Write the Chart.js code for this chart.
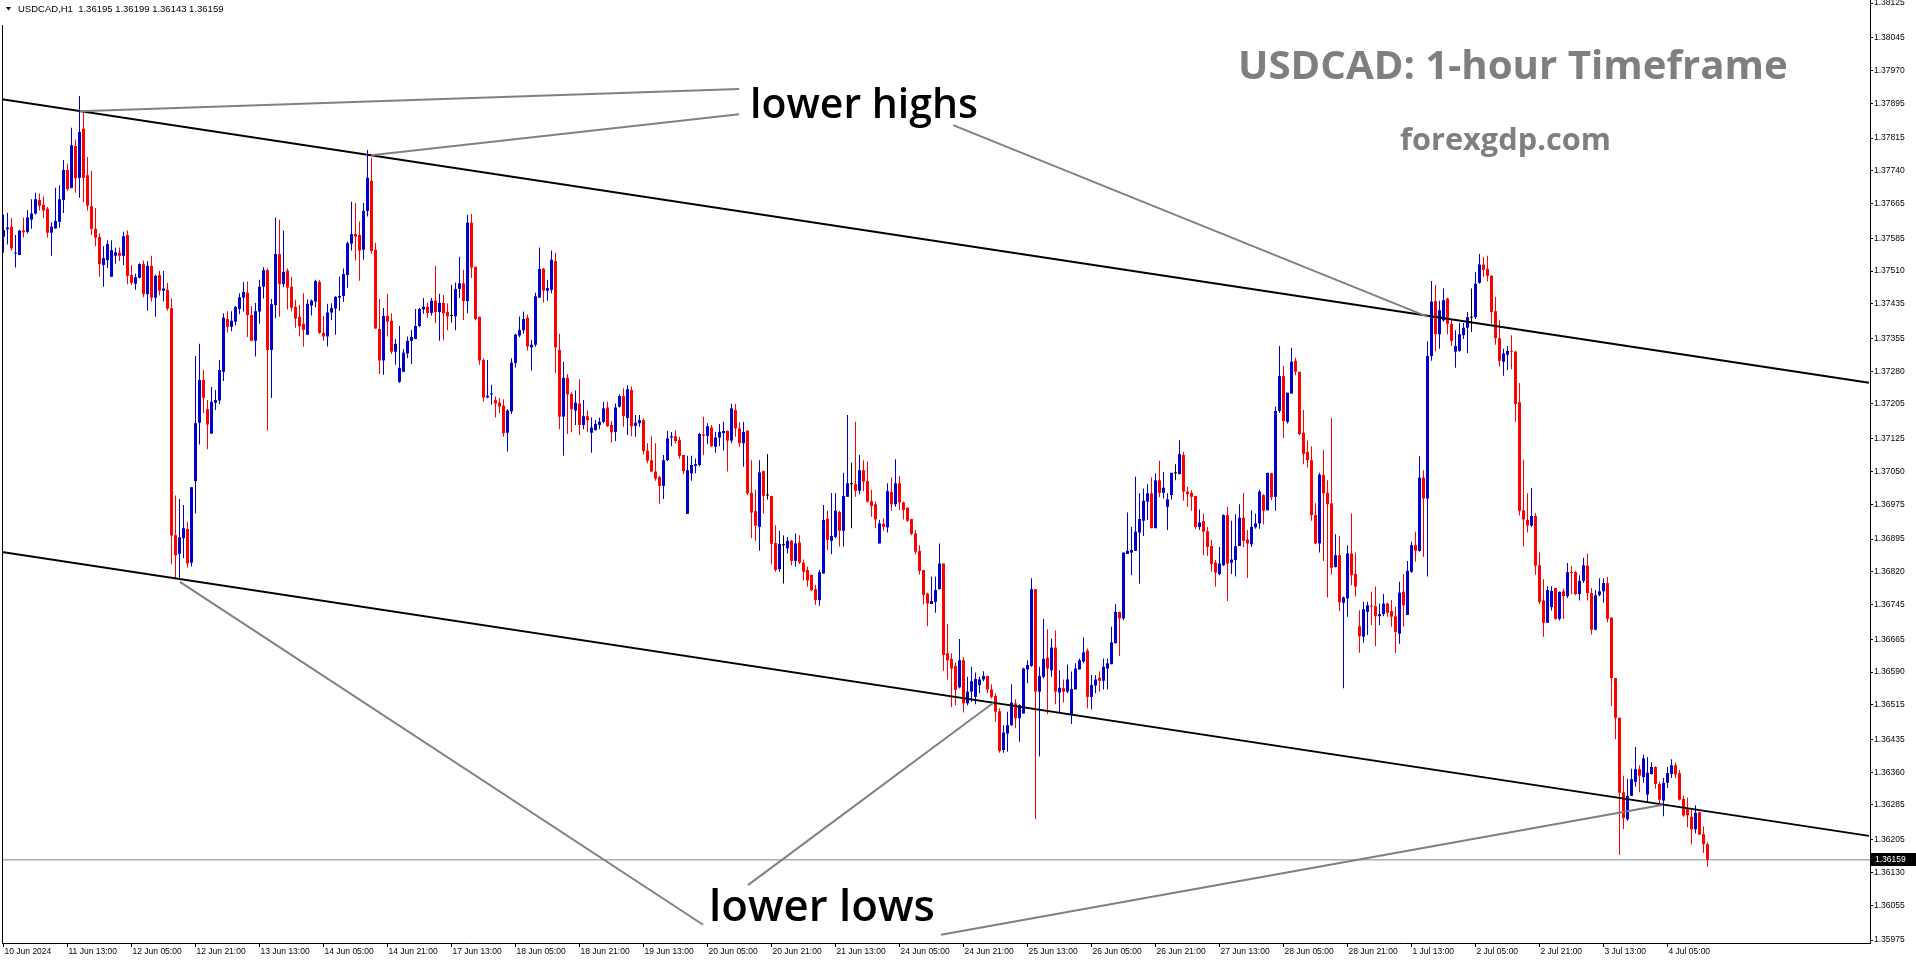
<!DOCTYPE html>
<html><head><meta charset="utf-8">
<script src="https://cdn.jsdelivr.net/npm/chart.js@4.4.1/dist/chart.umd.min.js"></script>
<style>html,body{margin:0;padding:0;background:#fff;overflow:hidden}canvas{display:block}</style>
</head><body>
<canvas id="c" width="1916" height="964"></canvas>
<script>
// ---- USDCAD H1 candles, one entry per hourly bar, from 10 Jun 2024 21:00 ----
const openP = [
1.37589,1.37606,1.37612,1.37550,1.37547,1.37603,1.37600,1.37628,1.37642,1.37673,1.37662,1.37653,1.37598,1.37608,1.37623,1.37673,
1.37742,1.37701,1.37797,1.37724,1.37837,1.37730,1.37659,1.37607,1.37588,1.37524,1.37535,1.37497,1.37545,1.37552,1.37545,1.37593,
1.37501,1.37481,1.37495,1.37526,1.37457,1.37522,1.37449,1.37501,1.37465,1.37467,1.37425,1.36904,1.36861,1.36897,1.36918,1.36841,
1.37028,1.37162,1.37260,1.37193,1.37137,1.37208,1.37213,1.37279,1.37400,1.37382,1.37394,1.37423,1.37449,1.37460,1.37409,1.37350,
1.37417,1.37474,1.37512,1.37329,1.37432,1.37549,1.37480,1.37511,1.37474,1.37428,1.37405,1.37389,1.37364,1.37431,1.37440,1.37485,
1.37368,1.37360,1.37415,1.37424,1.37449,1.37453,1.37501,1.37573,1.37595,1.37593,1.37559,1.37648,1.37717,1.37559,1.37377,1.37305,
1.37407,1.37396,1.37325,1.37256,1.37279,1.37321,1.37350,1.37354,1.37384,1.37422,1.37428,1.37414,1.37442,1.37416,1.37437,1.37416,
1.37407,1.37406,1.37469,1.37482,1.37441,1.37621,1.37520,1.37405,1.37306,1.37220,1.37227,1.37214,1.37208,1.37201,1.37139,1.37188,
1.37299,1.37362,1.37374,1.37403,1.37335,1.37341,1.37449,1.37515,1.37465,1.37467,1.37533,1.37329,1.37176,1.37265,1.37228,1.37190,
1.37206,1.37157,1.37177,1.37139,1.37145,1.37157,1.37164,1.37197,1.37157,1.37141,1.37199,1.37223,1.37173,1.37237,1.37155,1.37161,
1.37168,1.37098,1.37076,1.37050,1.37037,1.37017,1.37076,1.37128,1.37131,1.37122,1.37088,1.36953,1.37046,1.37063,1.37065,1.37135,
1.37132,1.37151,1.37107,1.37128,1.37138,1.37143,1.37121,1.37191,1.37149,1.37115,1.37144,1.37001,1.36959,1.36923,1.37051,1.36995,
1.36994,1.36886,1.36826,1.36881,1.36874,1.36891,1.36845,1.36887,1.36841,1.36824,1.36813,1.36780,1.36755,1.36816,1.36942,1.36891,
1.36900,1.36957,1.36914,1.36992,1.37021,1.37021,1.37006,1.37053,1.37028,1.36982,1.36975,1.36885,1.36930,1.36922,1.37003,1.36975,
1.37023,1.36979,1.36967,1.36941,1.36908,1.36868,1.36824,1.36770,1.36746,1.36751,1.36780,1.36839,1.36633,1.36620,1.36604,1.36555,
1.36617,1.36518,1.36545,1.36533,1.36560,1.36573,1.36581,1.36550,1.36535,1.36500,1.36411,1.36449,1.36468,1.36518,1.36484,1.36495,
1.36596,1.36604,1.36780,1.36545,1.36579,1.36623,1.36594,1.36646,1.36543,1.36553,1.36545,1.36491,1.36550,1.36596,1.36614,1.36639,
1.36533,1.36559,1.36577,1.36570,1.36598,1.36608,1.36656,1.36728,1.36713,1.36861,1.36864,1.36868,1.36910,1.36937,1.36981,1.37000,
1.36920,1.37030,1.37001,1.36969,1.36996,1.37046,1.37044,1.37088,1.37004,1.37001,1.36994,1.36923,1.36936,1.36913,1.36879,1.36841,
1.36815,1.36835,1.36950,1.36841,1.36847,1.36879,1.36944,1.36894,1.36883,1.36922,1.36931,1.36996,1.36961,1.37046,1.36992,1.37189,
1.37269,1.37164,1.37229,1.37304,1.37279,1.37139,1.37095,1.37076,1.36950,1.36885,1.37042,1.37001,1.36977,1.36831,1.36858,1.36749,
1.36759,1.36862,1.36815,1.36695,1.36671,1.36728,1.36741,1.36741,1.36718,1.36723,1.36747,1.36730,1.36718,1.36678,1.36774,1.36721,
1.36820,1.36881,1.36868,1.37036,1.36988,1.37315,1.37441,1.37365,1.37397,1.37447,1.37389,1.37325,1.37327,1.37363,1.37380,1.37403,
1.37404,1.37483,1.37525,1.37515,1.37499,1.37418,1.37356,1.37302,1.37318,1.37327,1.37325,1.37209,1.36961,1.36939,1.36926,1.36948,
1.36835,1.36754,1.36703,1.36739,1.36783,1.36712,1.36775,1.36764,1.36819,1.36819,1.36769,1.36799,1.36834,1.36771,1.36687,1.36767,
1.36775,1.36794,1.36715,1.36576,1.36485,1.36314,1.36252,1.36306,1.36338,1.36367,1.36349,1.36309,1.36356,1.36372,1.36333,1.36295,
1.36336,1.36356,1.36376,1.36358,1.36299,1.36275,1.36258,1.36229,1.36268,1.36218,1.36195];
const highP = [
1.37639,1.37644,1.37631,1.37593,1.37604,1.37633,1.37650,1.37675,1.37690,1.37688,1.37681,1.37657,1.37622,1.37701,1.37707,1.37765,
1.37757,1.37839,1.37812,1.37912,1.37876,1.37772,1.37740,1.37655,1.37597,1.37567,1.37581,1.37581,1.37564,1.37564,1.37600,1.37603,
1.37524,1.37504,1.37528,1.37534,1.37533,1.37545,1.37502,1.37511,1.37510,1.37483,1.37447,1.36995,1.36987,1.36973,1.36935,1.37014,
1.37315,1.37343,1.37283,1.37214,1.37244,1.37237,1.37306,1.37413,1.37418,1.37418,1.37429,1.37459,1.37485,1.37486,1.37430,1.37437,
1.37490,1.37519,1.37516,1.37446,1.37633,1.37628,1.37603,1.37516,1.37497,1.37444,1.37432,1.37459,1.37445,1.37445,1.37490,1.37489,
1.37407,1.37435,1.37436,1.37452,1.37497,1.37516,1.37578,1.37669,1.37666,1.37624,1.37666,1.37788,1.37770,1.37575,1.37446,1.37425,
1.37458,1.37413,1.37354,1.37384,1.37331,1.37360,1.37375,1.37423,1.37425,1.37448,1.37438,1.37448,1.37522,1.37458,1.37455,1.37436,
1.37478,1.37484,1.37543,1.37513,1.37639,1.37641,1.37520,1.37405,1.37310,1.37306,1.37249,1.37222,1.37219,1.37216,1.37193,1.37310,
1.37367,1.37406,1.37417,1.37410,1.37352,1.37460,1.37564,1.37517,1.37490,1.37557,1.37552,1.37366,1.37302,1.37274,1.37232,1.37236,
1.37262,1.37214,1.37190,1.37174,1.37168,1.37174,1.37210,1.37210,1.37166,1.37206,1.37227,1.37241,1.37248,1.37245,1.37180,1.37180,
1.37172,1.37115,1.37131,1.37115,1.37040,1.37088,1.37143,1.37141,1.37145,1.37130,1.37088,1.37086,1.37086,1.37080,1.37139,1.37176,
1.37161,1.37157,1.37141,1.37159,1.37164,1.37145,1.37206,1.37205,1.37163,1.37164,1.37144,1.37076,1.37008,1.37076,1.37052,1.37090,
1.36994,1.36927,1.36914,1.36903,1.36900,1.36893,1.36908,1.36904,1.36848,1.36832,1.36813,1.36790,1.36824,1.36973,1.36960,1.37001,
1.37001,1.36960,1.37047,1.37180,1.37070,1.37164,1.37088,1.37076,1.37073,1.37008,1.36981,1.36939,1.36942,1.37023,1.37037,1.37078,
1.37040,1.36981,1.36968,1.36941,1.36916,1.36881,1.36824,1.36772,1.36809,1.36809,1.36885,1.36839,1.36700,1.36633,1.36612,1.36666,
1.36624,1.36579,1.36602,1.36589,1.36579,1.36592,1.36581,1.36562,1.36541,1.36507,1.36468,1.36499,1.36562,1.36527,1.36516,1.36600,
1.36617,1.36805,1.36780,1.36602,1.36712,1.36688,1.36667,1.36685,1.36594,1.36573,1.36607,1.36591,1.36610,1.36621,1.36669,1.36644,
1.36583,1.36583,1.36592,1.36621,1.36621,1.36694,1.36746,1.36728,1.36864,1.36956,1.36923,1.37038,1.37000,1.37011,1.37021,1.37037,
1.37046,1.37075,1.37049,1.37000,1.37047,1.37067,1.37122,1.37095,1.37015,1.37007,1.36994,1.36963,1.36954,1.36923,1.36893,1.36847,
1.36877,1.36952,1.36969,1.36937,1.36952,1.36975,1.37001,1.36916,1.36961,1.36954,1.37009,1.36998,1.37047,1.37047,1.37199,1.37338,
1.37292,1.37231,1.37334,1.37311,1.37279,1.37191,1.37122,1.37108,1.36977,1.37047,1.37099,1.37030,1.37173,1.36906,1.36902,1.36763,
1.36881,1.36954,1.36864,1.36732,1.36751,1.36751,1.36774,1.36786,1.36747,1.36769,1.36749,1.36755,1.36740,1.36797,1.36815,1.36845,
1.36889,1.36912,1.37085,1.37053,1.37349,1.37487,1.37478,1.37442,1.37470,1.37449,1.37400,1.37374,1.37391,1.37391,1.37416,1.37470,
1.37508,1.37549,1.37542,1.37545,1.37501,1.37451,1.37397,1.37332,1.37338,1.37363,1.37327,1.37253,1.37077,1.37000,1.37012,1.36955,
1.36864,1.36803,1.36787,1.36787,1.36783,1.36775,1.36781,1.36840,1.36834,1.36822,1.36812,1.36852,1.36862,1.36783,1.36778,1.36805,
1.36805,1.36808,1.36715,1.36576,1.36485,1.36352,1.36345,1.36368,1.36418,1.36376,1.36400,1.36395,1.36383,1.36374,1.36338,1.36347,
1.36372,1.36390,1.36382,1.36365,1.36306,1.36302,1.36275,1.36284,1.36270,1.36236,1.36199];
const lowP = [
1.37552,1.37571,1.37557,1.37518,1.37547,1.37587,1.37596,1.37607,1.37640,1.37649,1.37631,1.37587,1.37545,1.37607,1.37610,1.37643,
1.37694,1.37700,1.37690,1.37678,1.37668,1.37649,1.37593,1.37567,1.37497,1.37474,1.37517,1.37497,1.37527,1.37533,1.37524,1.37480,
1.37478,1.37467,1.37493,1.37450,1.37419,1.37440,1.37405,1.37454,1.37440,1.37419,1.36837,1.36803,1.36801,1.36851,1.36830,1.36832,
1.36954,1.37112,1.37184,1.37101,1.37137,1.37191,1.37205,1.37258,1.37369,1.37372,1.37385,1.37411,1.37417,1.37359,1.37350,1.37314,
1.37389,1.37447,1.37144,1.37219,1.37402,1.37405,1.37473,1.37422,1.37417,1.37380,1.37360,1.37337,1.37364,1.37408,1.37427,1.37366,
1.37350,1.37337,1.37398,1.37364,1.37419,1.37439,1.37472,1.37557,1.37534,1.37488,1.37536,1.37635,1.37550,1.37378,1.37274,1.37272,
1.37360,1.37320,1.37295,1.37253,1.37279,1.37310,1.37297,1.37354,1.37381,1.37412,1.37403,1.37408,1.37390,1.37350,1.37351,1.37374,
1.37392,1.37374,1.37448,1.37398,1.37413,1.37494,1.37397,1.37295,1.37211,1.37218,1.37203,1.37174,1.37184,1.37130,1.37096,1.37182,
1.37289,1.37358,1.37366,1.37328,1.37282,1.37337,1.37449,1.37438,1.37442,1.37459,1.37276,1.37147,1.37087,1.37136,1.37140,1.37157,
1.37134,1.37147,1.37141,1.37093,1.37144,1.37147,1.37161,1.37153,1.37116,1.37120,1.37197,1.37153,1.37134,1.37131,1.37130,1.37153,
1.37089,1.37069,1.37049,1.37029,1.36976,1.36987,1.37074,1.37108,1.37115,1.37080,1.37044,1.36953,1.37029,1.37046,1.37061,1.37088,
1.37113,1.37107,1.37093,1.37108,1.37098,1.37050,1.37115,1.37130,1.37107,1.37061,1.36996,1.36897,1.36891,1.36868,1.36954,1.36986,
1.36837,1.36820,1.36820,1.36793,1.36862,1.36835,1.36832,1.36838,1.36800,1.36786,1.36776,1.36744,1.36742,1.36816,1.36870,1.36860,
1.36897,1.36878,1.36878,1.36992,1.36920,1.36992,1.36998,1.37005,1.36979,1.36946,1.36920,1.36885,1.36914,1.36910,1.36960,1.36969,
1.36962,1.36940,1.36935,1.36904,1.36860,1.36814,1.36745,1.36695,1.36746,1.36726,1.36780,1.36593,1.36572,1.36510,1.36514,1.36552,
1.36497,1.36514,1.36522,1.36516,1.36541,1.36569,1.36541,1.36529,1.36476,1.36405,1.36405,1.36407,1.36466,1.36461,1.36430,1.36495,
1.36564,1.36602,1.36253,1.36396,1.36575,1.36493,1.36579,1.36516,1.36497,1.36520,1.36541,1.36471,1.36550,1.36596,1.36610,1.36507,
1.36504,1.36541,1.36545,1.36550,1.36550,1.36608,1.36656,1.36627,1.36709,1.36861,1.36812,1.36868,1.36793,1.36902,1.36939,1.36920,
1.36920,1.36991,1.36988,1.36916,1.36986,1.37030,1.37044,1.36983,1.36969,1.36960,1.36919,1.36916,1.36858,1.36856,1.36820,1.36786,
1.36812,1.36833,1.36753,1.36815,1.36809,1.36879,1.36877,1.36806,1.36877,1.36919,1.36919,1.36929,1.36961,1.36984,1.36960,1.37185,
1.37127,1.37160,1.37229,1.37271,1.37134,1.37067,1.37059,1.36937,1.36883,1.36864,1.36845,1.36761,1.36814,1.36830,1.36730,1.36553,
1.36717,1.36789,1.36763,1.36634,1.36657,1.36675,1.36698,1.36649,1.36698,1.36718,1.36717,1.36694,1.36633,1.36655,1.36694,1.36721,
1.36818,1.36843,1.36866,1.36854,1.36809,1.37304,1.37326,1.37332,1.37394,1.37365,1.37338,1.37288,1.37325,1.37354,1.37322,1.37370,
1.37400,1.37481,1.37497,1.37486,1.37389,1.37341,1.37291,1.37270,1.37283,1.37285,1.37164,1.36949,1.36878,1.36910,1.36923,1.36813,
1.36746,1.36671,1.36703,1.36731,1.36710,1.36708,1.36712,1.36760,1.36769,1.36766,1.36754,1.36794,1.36754,1.36676,1.36686,1.36764,
1.36749,1.36704,1.36512,1.36436,1.36170,1.36229,1.36249,1.36314,1.36327,1.36314,1.36336,1.36291,1.36355,1.36322,1.36286,1.36259,
1.36324,1.36347,1.36347,1.36295,1.36258,1.36234,1.36195,1.36220,1.36216,1.36175,1.36143];
const closeP = [
1.37604,1.37610,1.37562,1.37552,1.37603,1.37599,1.37633,1.37642,1.37675,1.37660,1.37649,1.37598,1.37612,1.37625,1.37675,1.37742,
1.37698,1.37799,1.37723,1.37829,1.37724,1.37660,1.37607,1.37587,1.37526,1.37540,1.37572,1.37558,1.37553,1.37545,1.37590,1.37499,
1.37483,1.37496,1.37526,1.37457,1.37522,1.37449,1.37499,1.37465,1.37470,1.37424,1.36903,1.36858,1.36899,1.36920,1.36839,1.37014,
1.37161,1.37260,1.37219,1.37158,1.37210,1.37214,1.37283,1.37403,1.37382,1.37396,1.37428,1.37450,1.37462,1.37409,1.37350,1.37418,
1.37474,1.37512,1.37329,1.37434,1.37549,1.37480,1.37508,1.37472,1.37426,1.37401,1.37383,1.37375,1.37435,1.37442,1.37487,1.37368,
1.37360,1.37415,1.37425,1.37451,1.37453,1.37503,1.37574,1.37595,1.37589,1.37557,1.37648,1.37724,1.37556,1.37378,1.37305,1.37407,
1.37394,1.37325,1.37343,1.37288,1.37323,1.37350,1.37359,1.37384,1.37423,1.37428,1.37414,1.37442,1.37416,1.37437,1.37413,1.37406,
1.37407,1.37469,1.37482,1.37441,1.37621,1.37518,1.37400,1.37305,1.37220,1.37224,1.37228,1.37206,1.37199,1.37138,1.37190,1.37300,
1.37364,1.37375,1.37400,1.37337,1.37341,1.37452,1.37515,1.37465,1.37471,1.37536,1.37335,1.37176,1.37265,1.37227,1.37193,1.37208,
1.37157,1.37177,1.37168,1.37151,1.37159,1.37164,1.37195,1.37154,1.37140,1.37197,1.37223,1.37177,1.37239,1.37154,1.37162,1.37168,
1.37097,1.37075,1.37050,1.37034,1.37017,1.37076,1.37126,1.37131,1.37120,1.37086,1.37051,1.37053,1.37065,1.37067,1.37136,1.37132,
1.37154,1.37108,1.37128,1.37141,1.37143,1.37121,1.37195,1.37149,1.37115,1.37141,1.37000,1.36956,1.36926,1.37048,1.36994,1.36995,
1.36884,1.36824,1.36884,1.36881,1.36891,1.36845,1.36885,1.36841,1.36820,1.36800,1.36778,1.36755,1.36819,1.36939,1.36893,1.36902,
1.36960,1.36914,1.36994,1.37023,1.37021,1.37006,1.37053,1.37027,1.36981,1.36971,1.36940,1.36931,1.36923,1.37005,1.36975,1.37023,
1.36979,1.36962,1.36937,1.36907,1.36866,1.36822,1.36767,1.36747,1.36753,1.36778,1.36839,1.36629,1.36617,1.36598,1.36549,1.36617,
1.36518,1.36545,1.36569,1.36574,1.36573,1.36581,1.36550,1.36533,1.36499,1.36409,1.36451,1.36468,1.36520,1.36484,1.36514,1.36598,
1.36606,1.36780,1.36545,1.36581,1.36620,1.36598,1.36646,1.36545,1.36554,1.36545,1.36573,1.36551,1.36598,1.36617,1.36635,1.36533,
1.36560,1.36573,1.36570,1.36602,1.36610,1.36658,1.36728,1.36713,1.36864,1.36868,1.36870,1.36912,1.36941,1.36983,1.37000,1.36920,
1.37030,1.37001,1.37013,1.36986,1.37047,1.37046,1.37090,1.37004,1.36998,1.36992,1.36923,1.36933,1.36912,1.36877,1.36838,1.36818,
1.36839,1.36950,1.36839,1.36848,1.36879,1.36944,1.36891,1.36885,1.36923,1.36931,1.37004,1.36960,1.37047,1.36991,1.37189,1.37269,
1.37166,1.37231,1.37302,1.37279,1.37136,1.37090,1.37076,1.36950,1.36885,1.37043,1.37000,1.36975,1.36829,1.36858,1.36750,1.36761,
1.36862,1.36812,1.36786,1.36672,1.36734,1.36743,1.36740,1.36718,1.36723,1.36747,1.36726,1.36717,1.36682,1.36772,1.36743,1.36822,
1.36881,1.36868,1.37036,1.36988,1.37315,1.37440,1.37365,1.37420,1.37443,1.37389,1.37350,1.37338,1.37365,1.37380,1.37404,1.37403,
1.37481,1.37525,1.37513,1.37499,1.37416,1.37356,1.37304,1.37321,1.37327,1.37325,1.37205,1.36960,1.36940,1.36926,1.36948,1.36834,
1.36751,1.36703,1.36778,1.36776,1.36712,1.36774,1.36764,1.36819,1.36817,1.36769,1.36799,1.36835,1.36771,1.36687,1.36766,1.36775,
1.36794,1.36712,1.36576,1.36485,1.36313,1.36255,1.36306,1.36344,1.36367,1.36352,1.36392,1.36359,1.36372,1.36333,1.36297,1.36336,
1.36358,1.36376,1.36355,1.36297,1.36261,1.36261,1.36229,1.36267,1.36217,1.36195,1.36159];

// ---- axis ticks ----
const xTickBars = [0,16,32,48,64,80,96,112,128,144,160,176,192,208,224,240,256,272,288,304,320,336,352,368,384,400,416];
const xTickLabels = ['10 Jun 2024','11 Jun 13:00','12 Jun 05:00','12 Jun 21:00','13 Jun 13:00','14 Jun 05:00','14 Jun 21:00',
 '17 Jun 13:00','18 Jun 05:00','18 Jun 21:00','19 Jun 13:00','20 Jun 05:00','20 Jun 21:00','21 Jun 13:00','24 Jun 05:00',
 '24 Jun 21:00','25 Jun 13:00','26 Jun 05:00','26 Jun 21:00','27 Jun 13:00','28 Jun 05:00','28 Jun 21:00','1 Jul 13:00',
 '2 Jul 05:00','2 Jul 21:00','3 Jul 13:00','4 Jul 05:00'];
const yTickLabels = ['1.38125','1.38045','1.37970','1.37895','1.37815','1.37740','1.37665','1.37585','1.37510','1.37435',
 '1.37355','1.37280','1.37205','1.37125','1.37050','1.36975','1.36895','1.36820','1.36745','1.36665','1.36590','1.36515',
 '1.36435','1.36360','1.36285','1.36205','1.36130','1.36055','1.35975'];
const priceMin = 1.359682, priceMax = 1.381320;
const barMin = -0.375, barMax = 466.625;

// ---- drawn objects (bar index, price) ----
const upperTrend = [{x:-0.875, y:1.37905}, {x:466.375, y:1.37254}];
const lowerTrend = [{x:-0.875, y:1.36866}, {x:466.375, y:1.36214}];
const pointerHighA = [{x:19.1, y:1.37877}, {x:183.9, y:1.37928}];
const pointerHighB = [{x:91.9, y:1.37776}, {x:183.9, y:1.37870}];
const pointerHighC = [{x:237.4, y:1.37845}, {x:356.1, y:1.37405}];
const pointerLowD = [{x:44.1, y:1.36797}, {x:174.9, y:1.36010}];
const pointerLowE = [{x:186.1, y:1.36101}, {x:247.4, y:1.36519}];
const pointerLowF = [{x:234.4, y:1.35987}, {x:414.6, y:1.36285}];

const symbol = 'USDCAD', timeframe = 'H1';
const titleText = 'USDCAD: 1-hour Timeframe';
const siteText = 'forexgdp.com';
const highsText = 'lower highs';
const lowsText = 'lower lows';

// ---- build ----
const UI = "'Liberation Sans', Arial, sans-serif";
const UP = '#0000CD', DOWN = '#FF0000', DOJI = '#000000', GREY = '#808080';
const n = closeP.length, last = n - 1;
const idx = closeP.map((_, i) => i);
const candleColors = idx.map(i => closeP[i] > openP[i] ? UP : (closeP[i] < openP[i] ? DOWN : DOJI));
const wickData = idx.map(i => ({x: i, y: [Math.min(lowP[i], openP[i], closeP[i]), Math.max(highP[i], openP[i], closeP[i])]}));
const bodyData = idx.map(i => ({x: i, y: [openP[i], closeP[i]]}));
const priceLine = [{x: barMin, y: closeP[last]}, {x: barMax, y: closeP[last]}];

function lineDs(data, color, width, order) {
  return {type: 'line', data, borderColor: color, borderWidth: width, pointRadius: 0, pointHoverRadius: 0,
          fill: false, tension: 0, order};
}

function fitText(ctx, text, weight, family, width, x, baseline, color) {
  ctx.font = `${weight} 40px ${family}`;
  const w = ctx.measureText(text).width;
  const size = 40 * width / w;
  ctx.font = `${weight} ${size}px ${family}`;
  ctx.fillStyle = color;
  ctx.textAlign = 'left';
  ctx.textBaseline = 'alphabetic';
  ctx.fillText(text, x, baseline);
}

const decor = {
  id: 'decor',
  afterDraw(chart) {
    const {ctx, chartArea: a, scales} = chart;
    const y = scales.y;
    ctx.save();
    // left frame
    ctx.fillStyle = '#000';
    ctx.fillRect(a.left, 25, 1, a.bottom - 25);
    // header: small triangle + symbol line
    ctx.beginPath();
    ctx.moveTo(6, 7); ctx.lineTo(11, 7); ctx.lineTo(8.5, 10.5); ctx.closePath();
    ctx.fill();
    const hdr = `${symbol},${timeframe}  ${openP[last].toFixed(5)} ${highP[last].toFixed(5)} ${lowP[last].toFixed(5)} ${closeP[last].toFixed(5)}`;
    ctx.font = `9.5px ${UI}`;
    ctx.textBaseline = 'middle';
    ctx.textAlign = 'left';
    ctx.fillText(hdr, 18, 9.5);
    // titles and annotation labels
    fitText(ctx, titleText, 'bold', "'Open Sans', sans-serif", 550, 1238, 79, '#7f7f7f');
    fitText(ctx, siteText, 'bold', "'Open Sans', sans-serif", 211, 1400, 150, '#7f7f7f');
    fitText(ctx, highsText, '600', "'Open Sans', sans-serif", 228, 750, 118, '#000');
    fitText(ctx, lowsText, '600', "'Open Sans', sans-serif", 226, 709, 921, '#000');
    // current price tag on the axis
    const py = y.getPixelForValue(closeP[last]);
    ctx.fillStyle = '#000';
    ctx.fillRect(a.right + 1, Math.round(py) - 7, 1916 - a.right - 1, 13);
    ctx.fillStyle = '#fff';
    ctx.font = `8.5px ${UI}`;
    ctx.textBaseline = 'middle';
    ctx.fillText(closeP[last].toFixed(5), a.right + 5, Math.round(py) - 0.5);
    ctx.restore();
  }
};

new Chart(document.getElementById('c'), {
  type: 'bar',
  data: {
    datasets: [
      lineDs(pointerHighA, GREY, 2, 0),
      lineDs(pointerHighB, GREY, 2, 0),
      lineDs(pointerHighC, GREY, 2, 0),
      lineDs(pointerLowD, GREY, 2, 0),
      lineDs(pointerLowE, GREY, 2, 0),
      lineDs(pointerLowF, GREY, 2, 0),
      lineDs(upperTrend, '#000', 2, 1),
      lineDs(lowerTrend, '#000', 2, 1),
      {type: 'bar', data: bodyData, backgroundColor: candleColors, barThickness: 3, grouped: false,
       minBarLength: 1, inflateAmount: 0, borderWidth: 0, order: 2},
      {type: 'bar', data: wickData, backgroundColor: candleColors, barThickness: 1, grouped: false,
       inflateAmount: 0, borderWidth: 0, order: 3},
      lineDs(priceLine, '#778899', 1, 4)
    ]
  },
  options: {
    responsive: false, animation: false, events: [],
    layout: {padding: {left: 2, top: 0, right: 0, bottom: 0}},
    plugins: {legend: {display: false}, tooltip: {enabled: false}},
    scales: {
      x: {
        type: 'linear', position: 'bottom', min: barMin, max: barMax, offset: false,
        afterBuildTicks: s => { s.ticks = xTickBars.map(v => ({value: v})); },
        afterFit: s => { s.height = 21; s.paddingLeft = 0; s.paddingRight = 0; },
        ticks: {
          autoSkip: false, maxRotation: 0, minRotation: 0, align: 'start', padding: 0, labelOffset: 1,
          color: '#000', font: {family: UI, size: 8.5},
          callback: v => xTickLabels[xTickBars.indexOf(v)]
        },
        grid: {offset: false, drawOnChartArea: false, drawTicks: true, tickLength: 4, color: '#000'},
        border: {display: true, color: '#000', width: 1}
      },
      y: {
        type: 'linear', position: 'right', min: priceMin, max: priceMax, beginAtZero: false,
        afterBuildTicks: s => { s.ticks = yTickLabels.map(t => ({value: parseFloat(t)})); },
        afterFit: s => { s.width = 46; s.paddingTop = 0; s.paddingBottom = 0; },
        ticks: {
          autoSkip: false, padding: 1, color: '#000', font: {family: UI, size: 8.5},
          callback: v => yTickLabels.find(t => Math.abs(parseFloat(t) - v) < 1e-9)
        },
        grid: {drawOnChartArea: false, drawTicks: true, tickLength: 3, color: '#000'},
        border: {display: true, color: '#000', width: 1}
      }
    }
  },
  plugins: [decor]
});
</script>
</body></html>
